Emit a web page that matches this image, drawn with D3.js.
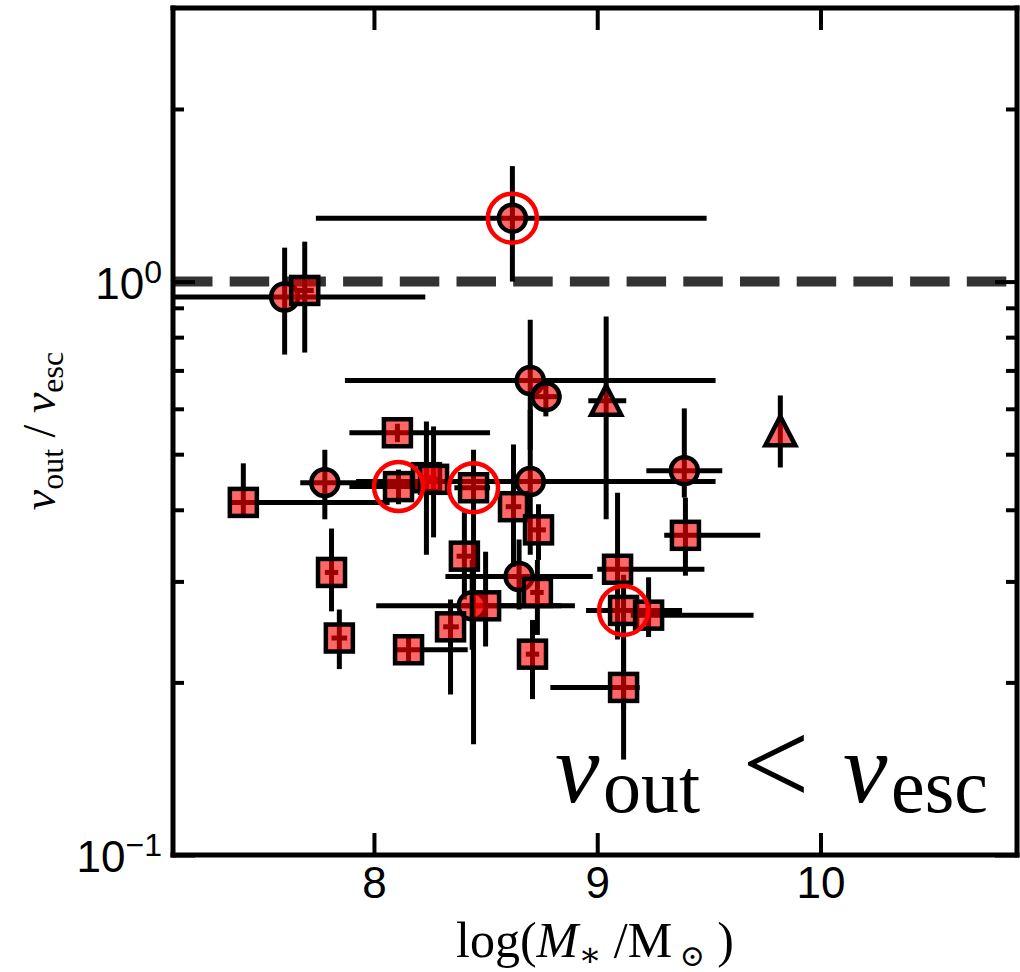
<!DOCTYPE html>
<html>
<head>
<meta charset="utf-8">
<script src="https://cdn.jsdelivr.net/npm/d3@7"></script>
<style>
body { margin: 0; background: #fff; }
</style>
</head>
<body>
<svg width="1020" height="972"></svg>
<script>
// each row: x, x low, x high, y, y low, y high
var circles = [
  [8.62, 7.74, 9.49, 1.29, 1.00, 1.59],
  [7.60, 6.90, 8.23, 0.94, 0.746, 1.146],
  [8.70, 7.87, 9.53, 0.672, 0.509, 0.858],
  [8.77, 8.70, 8.84, 0.630, 0.582, 0.675],
  [9.39, 9.22, 9.56, 0.468, 0.420, 0.601],
  [7.78, 7.67, 8.06, 0.446, 0.385, 0.509],
  [8.70, 7.92, 9.53, 0.448, 0.334, 0.598],
  [8.65, 8.32, 8.98, 0.306, 0.268, 0.355],
  [8.44, 8.01, 8.84, 0.272, 0.228, 0.327]
];
var squares = [
  [7.69, 7.65, 7.73, 0.965, 0.752, 1.174],
  [8.105, 7.89, 8.52, 0.545, 0.525, 0.565],
  [7.415, 7.36, 8.07, 0.412, 0.393, 0.482],
  [8.11, 7.89, 8.21, 0.439, 0.409, 0.47],
  [8.235, 8.20, 8.27, 0.455, 0.334, 0.570],
  [8.267, 8.23, 8.30, 0.452, 0.358, 0.559],
  [8.446, 8.36, 8.52, 0.437, 0.156, 0.509],
  [8.625, 8.59, 8.66, 0.405, 0.318, 0.520],
  [8.737, 8.70, 8.77, 0.369, 0.327, 0.409],
  [9.395, 9.30, 9.73, 0.361, 0.307, 0.420],
  [8.405, 8.37, 8.44, 0.332, 0.279, 0.396],
  [7.81, 7.78, 7.84, 0.311, 0.266, 0.371],
  [9.091, 9.00, 9.48, 0.315, 0.2375, 0.4285],
  [8.732, 8.70, 8.76, 0.287, 0.242, 0.327],
  [8.50, 8.40, 8.90, 0.272, 0.231, 0.338],
  [9.118, 8.95, 9.38, 0.267, 0.179, 0.308],
  [9.23, 9.15, 9.70, 0.262, 0.240, 0.305],
  [7.845, 7.81, 7.88, 0.239, 0.211, 0.268],
  [8.343, 8.31, 8.38, 0.250, 0.1905, 0.279],
  [8.155, 8.10, 8.42, 0.228, 0.215, 0.242],
  [8.71, 8.68, 8.74, 0.224, 0.187, 0.257],
  [9.118, 8.79, 9.19, 0.196, 0.1467, 0.2375]
];
var triangles = [
  [9.04, 8.96, 9.13, 0.620, 0.385, 0.869],
  [9.82, 9.82, 9.82, 0.548, 0.474, 0.633]
];
// points marked with an open red circle
var ringed = [[8.62, 1.29], [8.11, 0.439], [8.446, 0.437], [9.118, 0.267]];

var xTicks = [8, 9, 10];
var yMajor = [0.1, 1];
var yMinor = [0.2, 0.3, 0.4, 0.5, 0.6, 0.7, 0.8, 0.9, 2];
var yExp = {"0.1": "\u22121", "1": "0"};

var svg = d3.select("svg"),
    margin = {top: 8, right: 3, bottom: 117, left: 173},
    width = +svg.attr("width") - margin.left - margin.right,
    height = +svg.attr("height") - margin.top - margin.bottom;

var x = d3.scaleLinear().domain([7.1, 10.88]).range([0, width]);
var y = d3.scaleLog().domain([0.1, 3]).range([height, 0]);

var g = svg.append("g")
    .attr("transform", "translate(" + margin.left + "," + margin.top + ")");

g.append("clipPath").attr("id", "clip")
  .append("rect").attr("width", width).attr("height", height);

var plot = g.append("g").attr("clip-path", "url(#clip)");

// v_out = v_esc line
plot.append("line")
    .attr("x1", 0).attr("x2", width)
    .attr("y1", y(1)).attr("y2", y(1))
    .attr("stroke", "#333")
    .attr("stroke-width", 10)
    .attr("stroke-dasharray", "39.5,17.2");

var all = circles.concat(squares, triangles);

var bars = plot.append("g").attr("stroke", "#000").attr("stroke-width", 5);
bars.selectAll(".xerr")
  .data(all)
  .enter().append("line")
    .attr("class", "xerr")
    .attr("x1", function(d) { return x(d[1]); })
    .attr("x2", function(d) { return x(d[2]); })
    .attr("y1", function(d) { return y(d[3]); })
    .attr("y2", function(d) { return y(d[3]); });
bars.selectAll(".yerr")
  .data(all)
  .enter().append("line")
    .attr("class", "yerr")
    .attr("x1", function(d) { return x(d[0]); })
    .attr("x2", function(d) { return x(d[0]); })
    .attr("y1", function(d) { return y(d[4]); })
    .attr("y2", function(d) { return y(d[5]); });

var fill = "rgba(255,0,0,0.6)";

plot.selectAll(".circ")
  .data(circles)
  .enter().append("circle")
    .attr("class", "circ")
    .attr("cx", function(d) { return x(d[0]); })
    .attr("cy", function(d) { return y(d[3]); })
    .attr("r", 13.5)
    .attr("fill", fill)
    .attr("stroke", "#000")
    .attr("stroke-width", 4.5);

plot.selectAll(".sq")
  .data(squares)
  .enter().append("rect")
    .attr("class", "sq")
    .attr("x", function(d) { return x(d[0]) - 13.5; })
    .attr("y", function(d) { return y(d[3]) - 13.5; })
    .attr("width", 27)
    .attr("height", 27)
    .attr("fill", fill)
    .attr("stroke", "#000")
    .attr("stroke-width", 4.5);

plot.selectAll(".tri")
  .data(triangles)
  .enter().append("path")
    .attr("class", "tri")
    .attr("transform", function(d) { return "translate(" + x(d[0]) + "," + y(d[3]) + ")"; })
    .attr("d", "M0,-15L-15,14L15,14Z")
    .attr("fill", fill)
    .attr("stroke", "#000")
    .attr("stroke-width", 4.5);

plot.selectAll(".ring")
  .data(ringed)
  .enter().append("circle")
    .attr("class", "ring")
    .attr("cx", function(d) { return x(d[0]); })
    .attr("cy", function(d) { return y(d[1]); })
    .attr("r", 24.5)
    .attr("fill", "none")
    .attr("stroke", "red")
    .attr("stroke-width", 4.5);

// axes, ticks pointing inward
function styleAxis(sel) {
  sel.select(".domain").remove();
  sel.selectAll(".tick line").attr("stroke-width", 4);
  sel.attr("font-family", "'Liberation Sans', 'DejaVu Sans', sans-serif").attr("font-size", 44);
  sel.selectAll("text").attr("fill", "#000");
}
var blank = function() { return ""; };

g.append("g")
    .attr("transform", "translate(0," + height + ")")
    .call(d3.axisBottom(x).tickValues(xTicks).tickSizeInner(-22).tickSizeOuter(0)
      .tickPadding(12).tickFormat(d3.format("d")))
    .call(styleAxis);

g.append("g")
    .call(d3.axisTop(x).tickValues(xTicks).tickSizeInner(-22).tickSizeOuter(0).tickFormat(blank))
    .call(styleAxis);

var yAxisG = g.append("g")
    .call(d3.axisLeft(y).tickValues(yMajor).tickSizeInner(-22).tickSizeOuter(0).tickPadding(11))
    .call(styleAxis);
yAxisG.selectAll(".tick text")
    .attr("dy", "0.38em")
    .text(null)
    .each(function(d) {
      var t = d3.select(this);
      t.append("tspan").text("10");
      t.append("tspan").attr("dy", -16).attr("font-size", 32).text(yExp[String(d)]);
    });

g.append("g")
    .call(d3.axisLeft(y).tickValues(yMinor).tickSizeInner(-11).tickSizeOuter(0).tickFormat(blank))
    .call(styleAxis);
g.append("g")
    .attr("transform", "translate(" + width + ",0)")
    .call(d3.axisRight(y).tickValues(yMajor).tickSizeInner(-22).tickSizeOuter(0).tickFormat(blank))
    .call(styleAxis);
g.append("g")
    .attr("transform", "translate(" + width + ",0)")
    .call(d3.axisRight(y).tickValues(yMinor).tickSizeInner(-11).tickSizeOuter(0).tickFormat(blank))
    .call(styleAxis);

// frame
var spines = g.append("g").attr("stroke", "#000").attr("stroke-width", 5).attr("stroke-linecap", "square");
spines.append("line").attr("x1", 0).attr("x2", 0).attr("y1", 0).attr("y2", height);
spines.append("line").attr("x1", 0).attr("x2", width).attr("y1", height).attr("y2", height);
spines.append("line").attr("x1", 0).attr("x2", width).attr("y1", 0).attr("y2", 0);
spines.append("line").attr("x1", width).attr("x2", width).attr("y1", 0).attr("y2", height);

// axis titles
var serif = "'Liberation Serif', 'DejaVu Serif', serif";

var xl = svg.append("text")
    .attr("x", margin.left + width / 2)
    .attr("y", 957)
    .attr("text-anchor", "middle")
    .attr("font-family", serif)
    .attr("font-size", 50);
xl.append("tspan").text("log(");
xl.append("tspan").attr("font-style", "italic").text("M");
xl.append("tspan").attr("font-size", 34).attr("dy", 9).text("\u2217");
xl.append("tspan").attr("dy", -9).text(" /M");
xl.append("tspan").attr("font-size", 30).attr("dy", 9).text(" \u2299");
xl.append("tspan").attr("dy", -9).text(" )");

var yl = svg.append("text")
    .attr("transform", "translate(55,431) rotate(-90)")
    .attr("text-anchor", "middle")
    .attr("font-family", serif)
    .attr("font-size", 46);
yl.append("tspan").attr("font-style", "italic").text("v");
yl.append("tspan").attr("font-size", 32).attr("dy", 8).text("out");
yl.append("tspan").attr("dy", -8).text(" / ");
yl.append("tspan").attr("font-style", "italic").text("v");
yl.append("tspan").attr("font-size", 32).attr("dy", 8).text("esc");

// annotation
var note = svg.append("text")
    .attr("font-family", serif)
    .attr("font-size", 100);
note.append("tspan").attr("x", 555).attr("y", 802).attr("font-style", "italic").text("v");
note.append("tspan").attr("x", 603).attr("y", 812).attr("font-size", 76).text("out");
note.append("tspan").attr("x", 742).attr("y", 804).attr("font-size", 120).text("<");
note.append("tspan").attr("x", 843).attr("y", 802).attr("font-style", "italic").text("v");
note.append("tspan").attr("x", 891).attr("y", 812).attr("font-size", 76).text("esc");
</script>
</body>
</html>
